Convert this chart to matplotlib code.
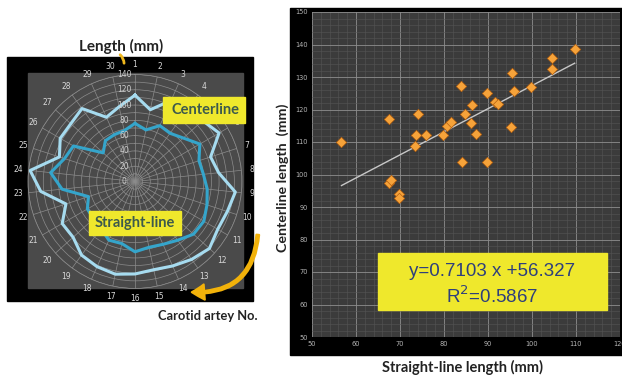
import numpy as np
import matplotlib
matplotlib.use('Agg')
import matplotlib.pyplot as plt
from matplotlib.patches import Rectangle, FancyArrowPatch
from matplotlib.ticker import MultipleLocator
from matplotlib.transforms import offset_copy

# Radar chart: length per carotid artery No. (1..30, clockwise from top)
artery_no = list(range(1, 31))
center_by_no = [113, 96, 116, 122, 119, 127, 104, 110, 132, 127,
                125, 131, 126, 121, 118, 121, 124, 122, 119, 109,
                110, 95, 124, 138, 104, 113, 113, 118, 92, 100]
straight_by_no = [76, 69, 80, 78, 85, 98, 88, 90, 95, 99,
                  104, 103, 95, 90, 88, 92, 83, 84, 76, 73,
                  72, 64, 96, 111, 97, 93, 56, 66, 67, 68]
radial_ticks = [0, 20, 40, 60, 80, 100, 120, 140]

# Scatter chart: straight-line vs centerline length
scatter_straight = [56.7, 67.4, 67.4, 68.0, 69.7, 69.7, 73.6, 73.3, 74.1, 75.8,
                    79.8, 80.7, 81.5, 83.8, 84.2, 84.8, 86.1, 86.4, 87.3, 89.7,
                    89.8, 91.7, 92.2, 95.2, 95.4, 95.9, 99.8, 104.5, 104.6, 109.7]
scatter_center = [110.1, 117.0, 97.4, 98.2, 94.1, 92.9, 112.2, 108.8, 118.5, 112.3,
                  112.2, 114.8, 116.3, 127.3, 103.9, 118.7, 115.8, 121.5, 112.5, 125.0,
                  103.7, 122.4, 121.7, 114.6, 131.2, 125.7, 126.9, 132.4, 136.0, 138.5]
slope, intercept, r2 = 0.7103, 56.327, 0.5867

W, H = 622, 379
fig = plt.figure(figsize=(W / 100, H / 100), dpi=100)
fig.patch.set_facecolor('white')


def box(x0, y0, x1, y1):
    return [x0 / W, 1 - y1 / H, (x1 - x0) / W, (y1 - y0) / H]


# background layer (frames) in pixel coordinates
bg = fig.add_axes([0, 0, 1, 1], zorder=0)
bg.set_xlim(0, W)
bg.set_ylim(H, 0)
bg.axis('off')
bg.add_patch(Rectangle((7, 57), 246, 244, color='black'))
bg.add_patch(Rectangle((28, 73), 215, 215, color='#4a4a4a'))
bg.add_patch(Rectangle((290, 8), 332, 347, color='black'))

# ---- radar chart ----
ax_r = fig.add_axes(box(28, 74.5, 242, 288.5), projection='polar', zorder=1)
ax_r.set_facecolor('none')
ax_r.set_theta_zero_location('N')
ax_r.set_theta_direction(-1)
angles = np.deg2rad(np.arange(30) * 12.0)
ax_r.set_ylim(0, 140)
ax_r.set_yticks(np.arange(0, 141, 10))
ax_r.set_yticklabels([])
ax_r.set_xticks(angles)
ax_r.set_xticklabels([str(n) for n in artery_no], color='#d8d8d8', fontsize=5.5)
ax_r.tick_params(axis='x', pad=-3)
ax_r.grid(color='#8c8c8c', lw=0.5)
ax_r.spines['polar'].set_color('#8c8c8c')
ax_r.spines['polar'].set_linewidth(0.5)

closed = np.append(angles, angles[0])
ax_r.plot(closed, np.append(center_by_no, center_by_no[0]), color='#a6dbef', lw=2.2)
ax_r.plot(closed, np.append(straight_by_no, straight_by_no[0]), color='#35a5cb', lw=2.2)

lab_tr = offset_copy(ax_r.transData, fig=fig, x=-11, y=0, units='dots')
for r in radial_ticks:
    ax_r.text(0, r, str(r), transform=lab_tr, ha='center', va='center',
              fontsize=5.5, color='#cfcfcf')

# ---- scatter chart ----
ax_s = fig.add_axes(box(312, 12, 620, 337), zorder=1)
ax_s.set_facecolor('#3b3b3b')
ax_s.set_xlim(50, 120)
ax_s.set_ylim(50, 150)
ax_s.xaxis.set_major_locator(MultipleLocator(10))
ax_s.yaxis.set_major_locator(MultipleLocator(10))
ax_s.xaxis.set_minor_locator(MultipleLocator(2))
ax_s.yaxis.set_minor_locator(MultipleLocator(2))
ax_s.grid(which='minor', color='#555555', lw=0.4)
ax_s.grid(which='major', color='#8e8e8e', lw=0.6)
ax_s.set_axisbelow(True)
for s in ax_s.spines.values():
    s.set_visible(False)
ax_s.tick_params(which='both', length=0, labelsize=4.8, labelcolor='#b5b5b5', pad=3)

xs = np.array([min(scatter_straight), max(scatter_straight)])
ax_s.plot(xs, slope * xs + intercept, color='#c8c8c8', lw=1)
ax_s.scatter(scatter_straight, scatter_center, marker='D', s=28,
             color='#f6a33a', edgecolor='#b5600f', linewidth=0.5, zorder=3)

# ---- overlay: labels, boxes, arrows ----
ov = fig.add_axes([0, 0, 1, 1], zorder=2)
ov.set_xlim(0, W)
ov.set_ylim(H, 0)
ov.axis('off')
ov.patch.set_alpha(0)

yellow = '#efe82c'
ov.add_patch(Rectangle((163, 97), 82, 26, color=yellow))
ov.text(205, 110, 'Centerline', ha='center', va='center', fontsize=10.5,
        fontweight='bold', family='Lato', color='#3d5a4c')
ov.add_patch(Rectangle((89, 211), 92, 24, color=yellow))
ov.text(135, 223, 'Straight-line', ha='center', va='center', fontsize=10.5,
        fontweight='bold', family='Lato', color='#3d5a4c')

ov.text(121, 46, 'Length (mm)', ha='center', va='center', fontsize=11,
        fontweight='bold', family='Lato', color='#222222')
ov.text(208, 316, 'Carotid artey No.', ha='center', va='center', fontsize=9.3,
        fontweight='bold', family='Lato', color='#222222')

ov.add_patch(FancyArrowPatch((118, 53), (124, 66), arrowstyle='-',
                             connectionstyle='arc3,rad=-0.3', color='#f0b81c', lw=2))
ov.add_patch(FancyArrowPatch((258, 232), (189, 292), arrowstyle='simple,head_width=1.1,head_length=0.9',
                             connectionstyle='arc3,rad=-0.5', color='#f2b20a',
                             mutation_scale=10, lw=1.5))

ov.add_patch(Rectangle((378, 253), 229, 57, color=yellow))
ov.text(492, 272, f'y={slope} x +{intercept}', ha='center', va='center', fontsize=13.5,
        family='Liberation Sans', color='#2e3f7c')
ov.text(492, 296, f'R$^2$={r2}', ha='center', va='center',
        fontsize=13.5, family='Liberation Sans', color='#2e3f7c')

ov.text(283, 178, 'Centerline length  (mm)', rotation=90, ha='center', va='center',
        fontsize=10.3, fontweight='bold', family='Lato', color='#222222')
ov.text(462, 367, 'Straight-line length (mm)', ha='center', va='center',
        fontsize=10.5, fontweight='bold', family='Lato', color='#222222')

fig.savefig('out.png', dpi=100)
